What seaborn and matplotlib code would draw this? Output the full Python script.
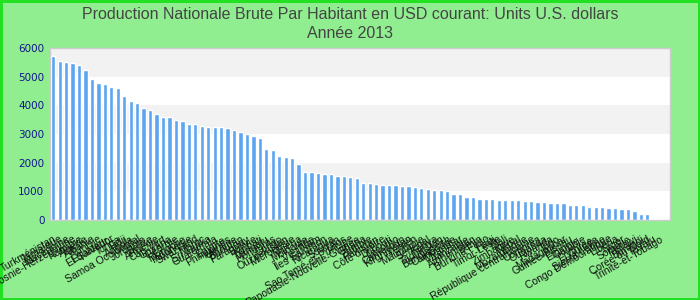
import numpy as np
import pandas as pd
import matplotlib
matplotlib.use("Agg")
import matplotlib.pyplot as plt
import seaborn as sns

title_lines = ["Production Nationale Brute Par Habitant en USD courant: Units U.S. dollars",
               "Année 2013"]

countries = [
    "Turkménistan", "Jamaïque", "Macédoine", "Bosnie-Herzégovine", "Namibie",
    "Algérie", "Albanie", "Tunisie", "Équateur", "El Salvador",
    "Tonga", "Fidji", "Angola", "Samoa Occidental", "Jordanie",
    "Belize", "Arménie", "Cap-Vert", "Guyana", "Géorgie",
    "Mongolie", "Indonésie", "Swaziland", "Maroc", "Sri Lanka",
    "Guatemala", "Égypte", "Philippines", "Ukraine", "Bhoutan",
    "Paraguay", "Bolivie", "Kiribati", "Vanuatu", "Honduras",
    "Congo", "Ouzbékistan", "Micronésie", "Nigéria", "Moldavie",
    "Inde", "Viêt Nam", "Îles Salomon", "Nicaragua", "Soudan",
    "Laos", "Sao Tomé-et-Principe", "Papouasie-Nouvelle-Guinée", "Ghana", "Zambie",
    "Pakistan", "Côte d'Ivoire", "Djibouti", "Lesotho", "Cameroun",
    "Kirghizistan", "Yémen", "Mauritanie", "Sénégal", "Kenya",
    "Tadjikistan", "Bangladesh", "Cambodge", "Myanmar", "Tanzanie",
    "Afghanistan", "Bénin", "Burkina Faso", "Haïti", "Timor-Leste",
    "Mali", "Zimbabwe", "Népal", "Mozambique", "République centrafricaine",
    "Comores", "Ouganda", "Rwanda", "Togo", "Madagascar",
    "Guinée-Bissau", "Éthiopie", "Gambie", "Érythrée", "Guinée",
    "Sierra Leone", "Congo Démocratique", "Libéria", "Niger", "Somalie",
    "Malawi", "Burundi", "Corée du Nord", "Tuvalu", "Trinité-et-Tobago",
]

values = [
    5730, 5560, 5520, 5490, 5420, 5240, 4930, 4790, 4750, 4650,
    4610, 4330, 4160, 4090, 3910, 3840, 3700, 3600, 3600, 3500,
    3460, 3360, 3360, 3290, 3250, 3250, 3250, 3220, 3150, 3080,
    3010, 2940, 2870, 2480, 2450, 2240, 2200, 2170, 1960, 1680,
    1680, 1640, 1610, 1610, 1540, 1540, 1500, 1470, 1290, 1290,
    1260, 1220, 1220, 1220, 1190, 1190, 1150, 1120, 1080, 1050,
    1050, 1010, 910, 910, 800, 800, 730, 730, 730, 700,
    700, 700, 700, 660, 660, 630, 630, 590, 590, 590,
    520, 520, 520, 450, 450, 450, 420, 420, 380, 380,
    315, 210, 210, np.nan, np.nan,
]

yticks = [0, 1000, 2000, 3000, 4000, 5000, 6000]

df = pd.DataFrame({"pays": countries, "valeur": values})

sns.set_style("white")
fig = plt.figure(figsize=(7, 3), dpi=100, facecolor="#90EE90",
                 edgecolor="#22e022", linewidth=2.5)
ax = fig.add_axes([0.0714, 0.2667, 0.8857, 0.5733])
ax.set_facecolor("white")

for lo in (1000, 3000, 5000):
    ax.axhspan(lo, lo + 1000, color="#f2f2f2", zorder=0, lw=0)

sns.barplot(data=df, x="pays", y="valeur", order=countries, color="#5ca5f0",
            saturation=1, width=0.66, ax=ax, zorder=2, errorbar=None)

ax.set_xlim(-0.5, len(countries) + 0.5)
ax.set_ylim(0, 6000)
ax.set_yticks(yticks)
ax.set_yticklabels([str(v) for v in yticks], color="#14148c", fontsize=7.5,
                   family="DejaVu Sans")
ax.set_xticks(range(len(countries)))
ax.set_xticklabels(countries, rotation=30, ha="right", rotation_mode="anchor",
                   fontsize=7.5, family="Liberation Sans", color="#111111")
ax.tick_params(axis="both", length=0, pad=4)
ax.tick_params(axis="x", pad=10)
ax.set_xlabel("")
ax.set_ylabel("")
for s in ax.spines.values():
    s.set_color("#cccccc")
    s.set_linewidth(1)

fig.text(0.5, 0.978, "\n".join(title_lines), ha="center", va="top",
         fontsize=11.5, color="#444444", family="Liberation Sans", linespacing=1.4)

fig.savefig("out.png", dpi=100, facecolor=fig.get_facecolor(),
            edgecolor=fig.get_edgecolor())
